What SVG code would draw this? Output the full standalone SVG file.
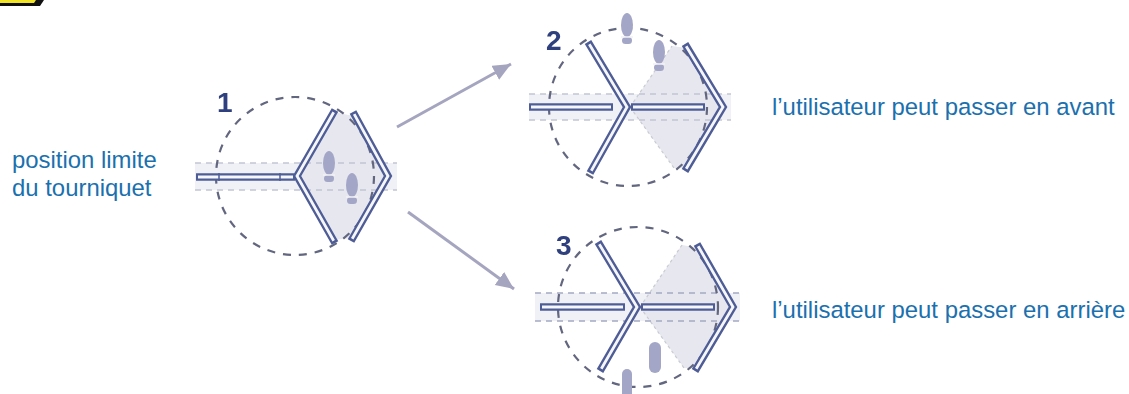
<svg xmlns="http://www.w3.org/2000/svg" width="1129" height="394" viewBox="0 0 1129 394">
<style>
text{font-family:"Liberation Sans",Arial,sans-serif}
.l{font-size:23.9px;fill:#1b70ae}
.n{font-size:28px;font-weight:bold;fill:#2f3f7d}
.c{fill:none;stroke:#62667f;stroke-width:2.2;stroke-dasharray:8 8}
.band{fill:#f0f1f7}
.bd{fill:none;stroke:#c2c5d3;stroke-width:1.6;stroke-dasharray:6 5}
.bd3{stroke:#a4a9c4}
.sec{fill:#e7e8ef}
.secl{fill:none;stroke:#c9cbd3;stroke-width:1.2;stroke-dasharray:3 3}
.ao{fill:none;stroke:#4f5d96;stroke-width:7.5;stroke-linejoin:miter}
.ai{fill:none;stroke:#f6f7fb;stroke-width:2.8;stroke-linejoin:miter}
.fp{fill:#a3a6c6}
.fh{stroke:#f2f2f6;stroke-width:1.5}
.conn{stroke:#a5a5c0;stroke-width:3;fill:none}
.soft{filter:url(#soft)}
</style>
<defs>
<filter id="soft" x="-5%" y="-5%" width="110%" height="110%"><feGaussianBlur stdDeviation="0.4"/></filter>
<marker id="ah" markerUnits="userSpaceOnUse" markerWidth="20" markerHeight="18" refX="18" refY="8" orient="auto"><path d="M0 0L18 8L0 16Z" fill="#a5a5c0"/></marker>
<g id="foot"><ellipse cx="0" cy="-4" rx="6" ry="12" class="fp"/><rect x="-5" y="8" width="10" height="7" rx="3.5" class="fp"/><path d="M-6 8H6" class="fh"/></g>
</defs>
<g id="warning"><path d="M0 0H44L40 6H0Z" fill="#111"/><path d="M0 0H36L34 3H0Z" fill="#f2e422"/></g>
<g id="connectors" class="soft">
<path class="conn" d="M397 127L511 64" marker-end="url(#ah)"/>
<path class="conn" d="M408 212L514 289" marker-end="url(#ah)"/>
</g>
<g id="turnstile-1" class="soft">
<rect class="band" x="195" y="163" width="202" height="27"/>
<path class="sec" d="M297 176L333 112L354 116L386 176L353 238L333 240Z"/>
<path class="bd" d="M195 163H397M195 190H397"/>
<circle class="c" cx="295" cy="176" r="79"/>
<use href="#foot" x="329" y="167"/><use href="#foot" x="352" y="189"/>
<path class="ao" d="M196 177H295M335 110L297 176L335 243M353 112L388 176L351 241"/>
<path class="ai" d="M198 177H293M333.7 112.2L297 176L333.7 240.8M354.2 114.2L388 176L352.2 238.8"/>
<path d="M219 173V181M280 173V181" stroke="#4f5d96" stroke-width="1.5"/>
<text class="n" x="217" y="112">1</text>
</g>
<g id="turnstile-2" class="soft">
<rect class="band" x="529" y="94" width="202" height="26"/>
<path class="sec" d="M630 107L672 46L687 48L721 107L687 168L674 168Z"/>
<path class="secl" d="M630 107L672 46M630 107L674 168"/>
<path class="bd" d="M529 94H731M529 120H731"/>
<circle class="c" cx="628" cy="107" r="79"/>
<use href="#foot" x="627" y="29"/><use href="#foot" x="659" y="56"/>
<path class="ao" d="M529 107H613M631 107H705M588 42L627 107L590 173M685 44L723 107L685 171"/>
<path class="ai" d="M531 107H611M633 107H703M589.3 44.2L627 107L591.3 170.8M686.2 46.2L723 107L686.2 168.8"/>
<text class="n" x="546" y="50">2</text>
</g>
<g id="turnstile-3" class="soft">
<rect class="band" x="535" y="293" width="205" height="28"/>
<path class="sec" d="M640 307L682 245L699 248L731 307L697 368L684 368Z"/>
<path class="secl" d="M640 307L682 245M640 307L684 368"/>
<path class="bd bd3" d="M535 293H740M535 321H740"/>
<circle class="c" cx="638" cy="307" r="80"/>
<path class="fp" d="M649 348a6 6 0 0 1 12 0V367a6 6 0 0 1-12 0Z"/>
<path class="fp" d="M622 374a5 5 0 0 1 10 0V394H622Z"/>
<path class="ao" d="M540 307H625M641 307H715M598 242L637 307L600 371M697 244L733 307L695 371"/>
<path class="ai" d="M542 307H623M643 307H713M599.3 244.2L637 307L601.3 368.8M698.2 246.2L733 307L696.2 368.8"/>
<text class="n" x="556" y="255">3</text>
</g>
<g id="labels">
<text class="l" x="12" y="168">position limite</text>
<text class="l" x="12" y="196">du tourniquet</text>
<text class="l" x="772" y="115">l’utilisateur peut passer en avant</text>
<text class="l" x="772" y="318">l’utilisateur peut passer en arrière</text>
</g>
</svg>
